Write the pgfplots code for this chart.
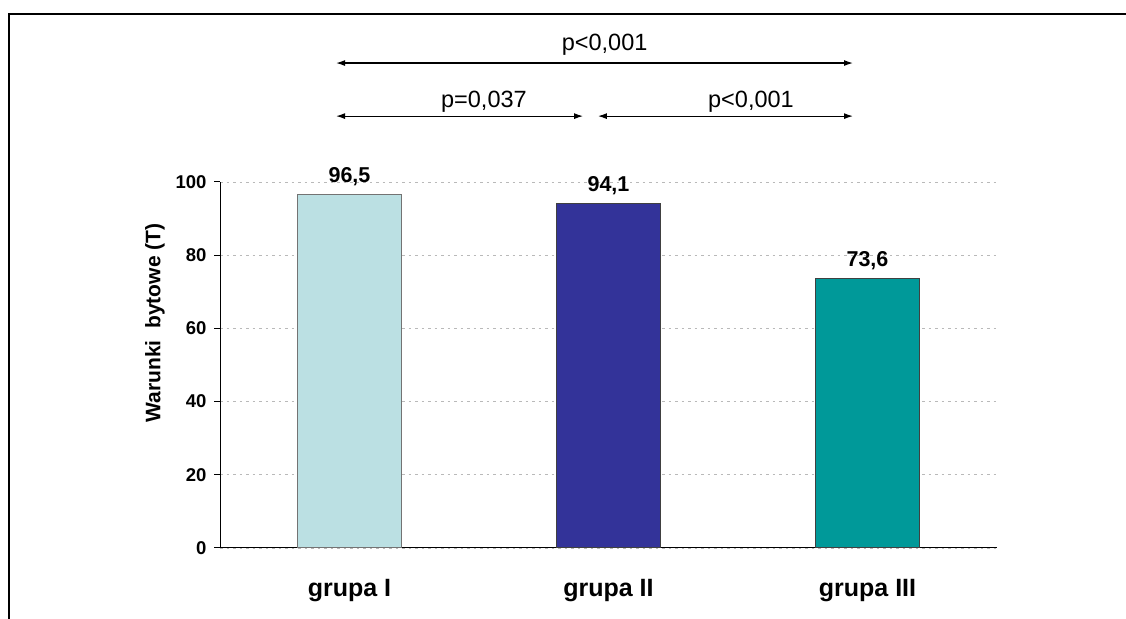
\documentclass[border=0pt]{standalone}
\usepackage{fontspec}
\setmainfont{Liberation Sans}
\usepackage{pgfplots}
\pgfplotsset{compat=1.18}
\usetikzlibrary{arrows.meta}
\definecolor{cA}{HTML}{BBE0E3}
\definecolor{cB}{HTML}{333399}
\definecolor{cC}{HTML}{009999}
\begin{document}
\begin{tikzpicture}
\useasboundingbox (0pt,0pt) rectangle (1126pt,618pt);
\draw[line width=2pt] (9pt,-5pt) -- (9pt,604pt) -- (1135pt,604pt);
\begin{axis}[
  at={(220pt,70pt)}, anchor=south west,
  scale only axis, width=777pt, height=366pt,
  xmin=-0.5, xmax=2.5, ymin=0, ymax=100,
  clip=false,
  axis x line*=bottom, axis y line*=left,
  axis line style={line width=1pt, -},
  tick align=outside,
  xtick={0,1,2}, xticklabels={grupa I, grupa II, grupa III},
  major x tick style={draw=none},
  extra x ticks={-0.5,0.5,1.5,2.5}, extra x tick labels={},
  extra x tick style={major tick length=7pt, tick style={draw=black, line width=1pt}},
  xticklabel style={font=\bfseries\fontsize{25}{25}\selectfont, anchor=base, yshift=-42pt},
  ytick={0,20,40,60,80,100},
  major tick length=6pt,
  ytick style={draw=black, line width=1pt},
  yticklabel style={font=\bfseries\fontsize{18.5}{18.5}\selectfont, xshift=-4pt},
  /pgf/number format/assume math mode=true,
  ymajorgrids, grid style={gray!55, line width=0.8pt, dash pattern=on 2.5pt off 4pt},
  nodes near coords={\pgfmathprintnumber[fixed,precision=1,fixed zerofill,use comma,assume math mode=true]{\pgfplotspointmeta}},
  every node near coord/.append style={font=\bfseries\fontsize{21.5}{21.5}\selectfont, anchor=base, yshift=12pt},
]
\addplot[ybar, bar width=0.4, bar shift=0pt, fill=cA, draw=black!55, line width=1pt] coordinates {(0,96.5)};
\addplot[ybar, bar width=0.4, bar shift=0pt, fill=cB, draw=black!75, line width=1pt] coordinates {(1,94.1)};
\addplot[ybar, bar width=0.4, bar shift=0pt, fill=cC, draw=black!75, line width=1pt] coordinates {(2,73.6)};
\draw[{Latex[length=9pt,width=6pt]}-{Latex[length=9pt,width=6pt]}, line width=1.2pt] (axis cs:-0.052,132.5) -- (axis cs:1.944,132.5);
\draw[{Latex[length=9pt,width=6pt]}-{Latex[length=9pt,width=6pt]}, line width=1.2pt] (axis cs:-0.052,118.0) -- (axis cs:0.902,118.0);
\draw[{Latex[length=9pt,width=6pt]}-{Latex[length=9pt,width=6pt]}, line width=1.2pt] (axis cs:0.959,118.0) -- (axis cs:1.944,118.0);
\node[font=\fontsize{23.5}{23.5}\selectfont, anchor=base] at (axis cs:0.985,135.9) {p<0,001};
\node[font=\fontsize{23.5}{23.5}\selectfont, anchor=base] at (axis cs:0.519,120.4) {p=0,037};
\node[font=\fontsize{23.5}{23.5}\selectfont, anchor=base] at (axis cs:1.550,120.4) {p<0,001};
\node[rotate=90, font=\bfseries\fontsize{21}{21}\selectfont] at (axis cs:-0.751,61.5) {Warunki\ \ bytowe (T)};
\end{axis}
\end{tikzpicture}
\end{document}
